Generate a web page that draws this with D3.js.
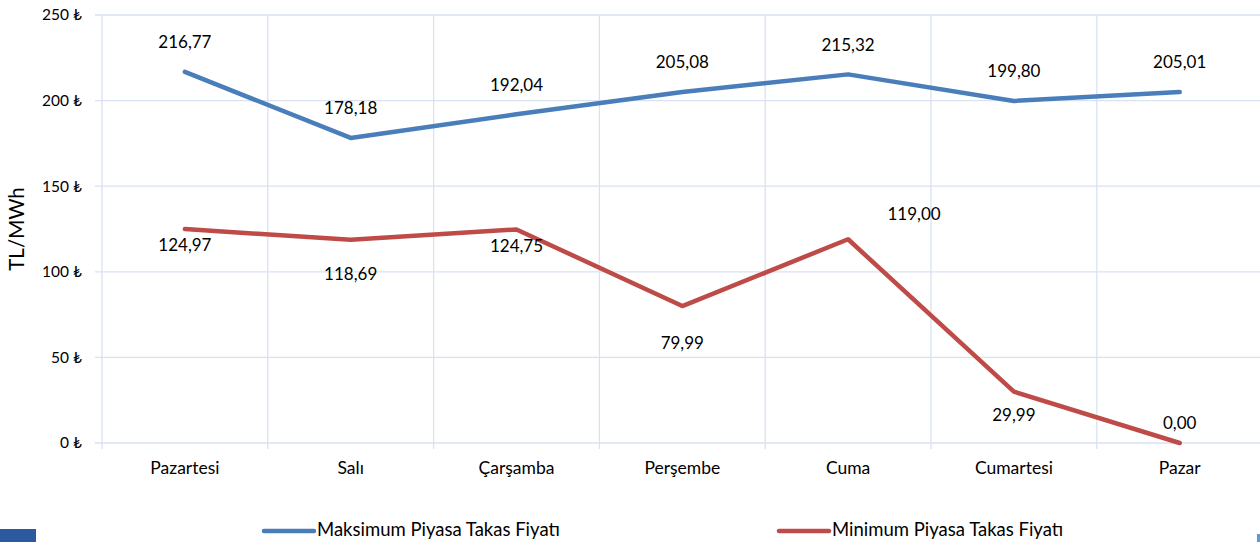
<!DOCTYPE html>
<html>
<head>
<meta charset="utf-8">
<script src="https://cdn.jsdelivr.net/npm/d3@7"></script>
<style>
  body { margin: 0; background: #fff; }
  svg { display: block; font-family: Lato, "Open Sans", "Noto Sans", sans-serif; }
  .grid line { stroke: #d9e2f1; stroke-width: 1.3; }
  .lbl { font-size: 17px; fill: #000; }
</style>
</head>
<body>
<svg id="chart"></svg>
<script>
const width = 1260;
const height = 542;

// data
const days = ['Pazartesi', 'Salı', 'Çarşamba', 'Perşembe', 'Cuma', 'Cumartesi', 'Pazar'];
const maxPrice = [216.77, 178.18, 192.04, 205.08, 215.32, 199.80, 205.01];
const minPrice = [124.97, 118.69, 124.75, 79.99, 119.00, 29.99, 0.00];
const yTicks = [0, 50, 100, 150, 200, 250];

// label placement (pixel offsets from the point)
const maxLabelDy = [-28, -28, -28, -28, -28, -28, -28];
const minLabelDx = [0, 0, 0, 0, 66, 0, 0];
const minLabelDy = [18, 36, 18, 39, -24, 25, -18];

const plotLeft = 102, plotTop = 15, plotBottom = 443;

const svg = d3.select('#chart')
  .attr('width', width)
  .attr('height', height)

const x = d3.scaleBand()
  .domain(days)
  .range([plotLeft, plotLeft + 7 * 165.8])
  .paddingInner(0)
  .paddingOuter(0)

const y = d3.scaleLinear()
  .domain([0, 250])
  .range([plotBottom, plotTop])

const fmt = v => v.toFixed(2).replace('.', ',')

// horizontal grid
const grid = svg.append('g').attr('class', 'grid')
grid.selectAll('line.h')
  .data(yTicks)
  .enter()
  .append('line')
  .attr('class', 'h')
  .attr('x1', plotLeft - 7)
  .attr('x2', width)
  .attr('y1', d => y(d))
  .attr('y2', d => y(d))

// vertical grid at category borders
grid.selectAll('line.v')
  .data(days)
  .enter()
  .append('line')
  .attr('class', 'v')
  .attr('x1', d => x(d))
  .attr('x2', d => x(d))
  .attr('y1', plotTop)
  .attr('y2', plotBottom + 6)

// y axis labels
const yAxis = d3.axisLeft(y)
  .tickValues(yTicks)
  .tickSize(0)
  .tickPadding(20)
  .tickFormat(d => d + ' ₺')

svg.append('g')
  .attr('transform', `translate(${plotLeft},0)`)
  .call(yAxis)
  .call(g => g.select('.domain').remove())
  .selectAll('text')
  .attr('font-size', 15.5)
  .attr('font-family', 'Lato, "Open Sans", "Noto Sans", sans-serif')
  .attr('fill', '#000')

// x axis labels
const xAxis = d3.axisBottom(x).tickSize(0).tickPadding(19)
svg.append('g')
  .attr('transform', `translate(0,${plotBottom})`)
  .call(xAxis)
  .call(g => g.select('.domain').remove())
  .selectAll('text')
  .attr('font-size', 17.5)
  .attr('font-family', 'Lato, "Open Sans", "Noto Sans", sans-serif')
  .attr('fill', '#000')

// y title
svg.append('text')
  .attr('transform', `translate(24,${(plotTop + plotBottom) / 2}) rotate(-90)`)
  .attr('text-anchor', 'middle')
  .attr('font-size', 20.5)
  .text('TL/MWh')

const cx = d => x(d) + x.bandwidth() / 2

const line = d3.line()
  .x((d, i) => cx(days[i]))
  .y(d => y(d))

svg.append('path')
  .datum(maxPrice)
  .attr('d', line)
  .attr('fill', 'none')
  .attr('stroke', '#4a7ebb')
  .attr('stroke-width', 4.5)
  .attr('stroke-linecap', 'round')
  .attr('stroke-linejoin', 'round')

svg.append('path')
  .datum(minPrice)
  .attr('d', line)
  .attr('fill', 'none')
  .attr('stroke', '#be4b48')
  .attr('stroke-width', 4.5)
  .attr('stroke-linecap', 'round')
  .attr('stroke-linejoin', 'round')

// data labels
svg.selectAll('text.maxl')
  .data(maxPrice)
  .enter()
  .append('text')
  .attr('class', 'lbl maxl')
  .attr('x', (d, i) => cx(days[i]))
  .attr('y', (d, i) => y(d) + maxLabelDy[i])
  .attr('text-anchor', 'middle')
  .attr('dominant-baseline', 'middle')
  .text(fmt)

svg.selectAll('text.minl')
  .data(minPrice)
  .enter()
  .append('text')
  .attr('class', 'lbl minl')
  .attr('x', (d, i) => cx(days[i]) + minLabelDx[i])
  .attr('y', (d, i) => y(d) + minLabelDy[i])
  .attr('text-anchor', 'middle')
  .attr('dominant-baseline', 'middle')
  .text(fmt)

// legend
const legend = [
  { name: 'Maksimum Piyasa Takas Fiyatı', color: '#4a7ebb', x: 264 },
  { name: 'Minimum Piyasa Takas Fiyatı', color: '#be4b48', x: 779 }
]
const lg = svg.selectAll('g.legend')
  .data(legend)
  .enter()
  .append('g')
  .attr('class', 'legend')
  .attr('transform', d => `translate(${d.x},531)`)
lg.append('line')
  .attr('x1', 0).attr('x2', 50)
  .attr('stroke', d => d.color)
  .attr('stroke-width', 4.5)
  .attr('stroke-linecap', 'round')
lg.append('text')
  .attr('x', 53)
  .attr('dominant-baseline', 'middle')
  .attr('font-size', 18.5)
  .text(d => d.name)

// decorative corner bits
svg.append('rect')
  .attr('x', 0).attr('y', 529)
  .attr('width', 36).attr('height', 13)
  .attr('fill', '#2b5a9e')
svg.append('rect')
  .attr('x', 1257).attr('y', 534)
  .attr('width', 3).attr('height', 8)
  .attr('fill', '#5b9bd5')
</script>
</body>
</html>
